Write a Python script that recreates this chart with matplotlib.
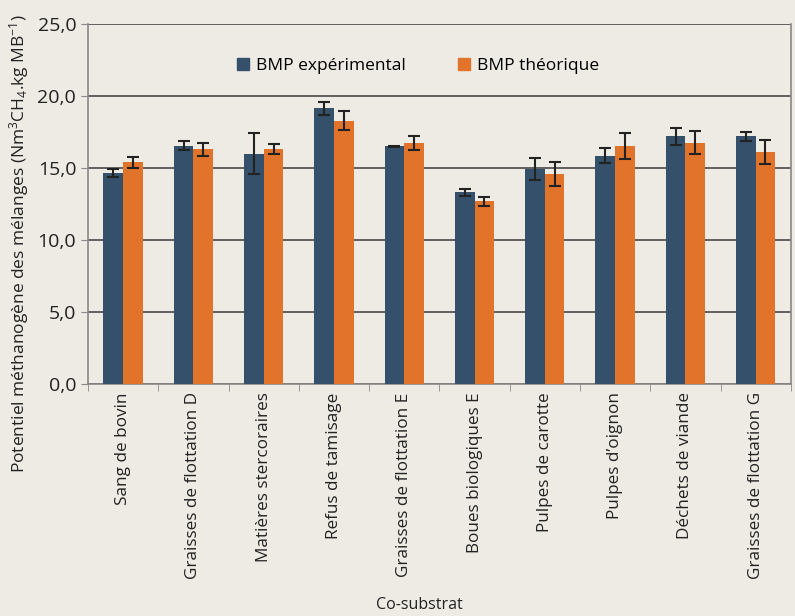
import numpy as np
import matplotlib
matplotlib.use('Agg')
import matplotlib.pyplot as plt
from matplotlib.patches import Patch
from matplotlib.ticker import FuncFormatter

plt.rcParams['font.family'] = ['Open Sans', 'DejaVu Sans']
plt.rcParams['mathtext.fontset'] = 'custom'
plt.rcParams['mathtext.rm'] = 'Open Sans'
plt.rcParams['mathtext.it'] = 'Open Sans'

# Data
categories = ['Sang de bovin', 'Graisses de flottation D', 'Matières stercoraires',
              'Refus de tamisage', 'Graisses de flottation E', 'Boues biologiques E',
              'Pulpes de carotte', 'Pulpes d\u2019oignon', 'Déchets de viande',
              'Graisses de flottation G']
bmp_exp = [14.65, 16.55, 16.0, 19.15, 16.5, 13.3, 14.95, 15.85, 17.2, 17.2]
bmp_exp_err = [0.3, 0.3, 1.4, 0.45, 0.02, 0.25, 0.78, 0.53, 0.6, 0.3]
bmp_theo = [15.4, 16.3, 16.3, 18.3, 16.75, 12.7, 14.6, 16.55, 16.75, 16.1]
bmp_theo_err = [0.4, 0.46, 0.35, 0.64, 0.5, 0.31, 0.83, 0.91, 0.8, 0.85]

bg = '#eeebe5'
blue = '#34506b'
orange = '#e2732a'

fig = plt.figure(figsize=(7.95, 6.16), dpi=100, facecolor=bg)
ax = fig.add_axes([0.1107, 0.3766, 0.884, 0.5844], facecolor=bg)

x = np.arange(len(categories))
w = 0.28
err_kw = dict(ecolor='#222222', elinewidth=1.5, capsize=4, capthick=1.5)
ax.bar(x - w / 2, bmp_exp, w, color=blue, yerr=bmp_exp_err, error_kw=err_kw, zorder=3)
ax.bar(x + w / 2, bmp_theo, w, color=orange, yerr=bmp_theo_err, error_kw=err_kw, zorder=3)

ax.set_xlim(-0.5, len(categories) - 0.5)
ax.set_ylim(0, 25)
ax.set_yticks(np.arange(0, 25.1, 5))
ax.yaxis.set_major_formatter(FuncFormatter(lambda v, p: ('%.1f' % v).replace('.', ',')))
ax.grid(axis='y', color='#555555', linewidth=1.3, zorder=0)
ax.tick_params(axis='y', labelsize=14, labelcolor='#222222', length=5, color='#888888')

ax.set_xticks(x)
ax.set_xticklabels(categories, rotation=90, fontsize=12.3, color='#222222')
ax.set_xticks(np.arange(-0.5, len(categories)), minor=True)
ax.tick_params(axis='x', which='major', length=0, pad=6)
ax.tick_params(axis='x', which='minor', length=5, color='#888888')

for side in ['left', 'right', 'bottom']:
    ax.spines[side].set_color('#888888')
    ax.spines[side].set_linewidth(1.2)
ax.spines['top'].set_visible(False)

handles = [Patch(color=blue, label='BMP expérimental'),
           Patch(color=orange, label='BMP théorique')]
ax.legend(handles=handles, loc='upper center', bbox_to_anchor=(0.47, 0.95), ncol=2,
          frameon=False, fontsize=12.5, handlelength=0.7, handleheight=0.7,
          handletextpad=0.4, columnspacing=3.0)

fig.text(0.024, 0.605, 'Potentiel méthanogène des mélanges (Nm$^3$CH$_4$.kg MB$^{-1}$)',
         rotation=90, ha='center', va='center', fontsize=12.5, color='#222222')
fig.text(0.527, 0.018, 'Co-substrat', ha='center', va='center', fontsize=11.5, color='#222222')

fig.savefig('out.png', dpi=100, facecolor=bg)
